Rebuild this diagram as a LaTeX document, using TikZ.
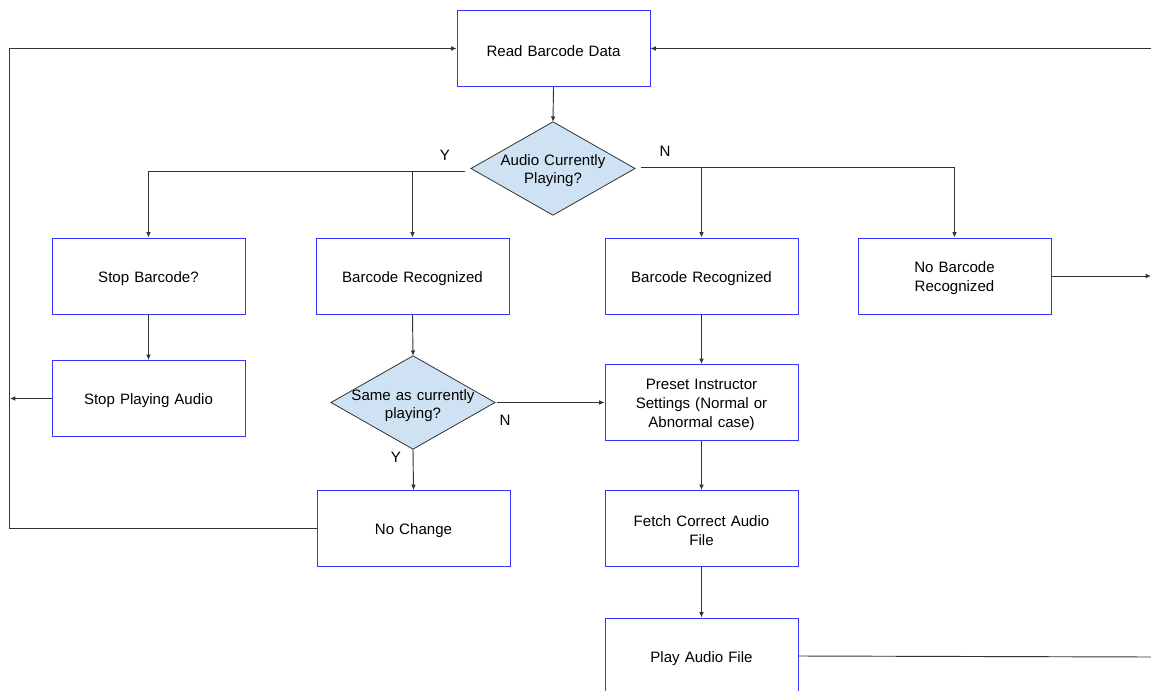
\documentclass[tikz,border=0pt]{standalone}
\usepackage{fontspec}
\setmainfont{Liberation Sans}
\usetikzlibrary{shapes.geometric,arrows.meta}
\definecolor{boxblue}{HTML}{3535FF}
\definecolor{dfill}{HTML}{CFE2F3}
\definecolor{lgray}{HTML}{333333}
\begin{document}
\begin{tikzpicture}[x=0.75pt,y=-0.75pt,
  txt/.style={font=\fontsize{11.3}{14}\selectfont},
  box/.style={txt, draw=boxblue, line width=0.7pt, minimum width=144.75pt, minimum height=57pt, align=center, inner sep=0pt, text width=130pt, execute at begin node={\rule{0pt}{11.5pt}}},
  dec/.style={diamond, draw=lgray, fill=dfill, line width=0.6pt, minimum width=123pt, minimum height=70pt, inner sep=0pt, outer sep=0pt},
  dtxt/.style={txt, align=center, inner sep=0pt, text width=130pt, execute at begin node={\rule{0pt}{11.5pt}}},
  conn/.style={draw=lgray, line width=0.7pt},
  arr/.style={conn, -{Latex[length=4pt,width=3.5pt]}},
  lbl/.style={txt, inner sep=0pt}]
\useasboundingbox (0,0) rectangle (1151,691);
\clip (0,0) rectangle (1151,691);
\fill[white] (0,0) rectangle (1151,691);

% nodes
\node[box] (read) at (553.5,48.5) {Read Barcode Data};
\node[dec] (d1) at (553,168.5) {};
\node[dtxt] (d1t) at (553,168.5) {Audio Currently\\Playing?};
\node[box] (stopbc) at (148.5,276) {Stop Barcode?};
\node[box] (brl) at (412.5,276) {Barcode Recognized};
\node[box] (brr) at (701.5,276) {Barcode Recognized};
\node[box] (nobr) at (954.5,276) {No Barcode\\Recognized};
\node[box] (stopplay) at (148.5,398.5) {Stop Playing Audio};
\node[dec] (d2) at (413,402.5) {};
\node[dtxt] (d2t) at (413,403.5) {Same as currently\\playing?};
\node[box] (preset) at (701.5,402.5) {Preset Instructor\\Settings (Normal or\\Abnormal case)};
\node[box] (nochange) at (413.5,528.5) {No Change};
\node[box] (fetch) at (701.5,528.5) {Fetch Correct Audio\\File};
\node[box] (play) at (701.5,656) {Play Audio File};

% coordinates
\coordinate (yl) at (465,171);
\coordinate (ys) at (148.5,171);
\coordinate (yb) at (412.5,171);
\coordinate (nl) at (641,167);
\coordinate (nb) at (701.5,167);
\coordinate (ne) at (954.5,167);
\coordinate (lb) at (9,528.5);
\coordinate (sl) at (10,398.5);
\coordinate (r1) at (1151,48.5);
\coordinate (r2) at (1151,276);
\coordinate (r3) at (1151,657);

% connectors
\draw[arr] (read.south) -- (d1.north);
\draw[conn] (yl) -- (ys);
\draw[arr] (ys) -- (stopbc.north);
\draw[arr] (yb) -- (brl.north);
\draw[conn] (nl) -- (ne);
\draw[arr] (nb) -- (brr.north);
\draw[arr] (ne) -- (nobr.north);
\draw[arr] (stopbc.south) -- (stopplay.north);
\draw[arr] (stopplay.west) -- (sl);
\draw[arr] (nochange.west) -- (lb) |- (read.west);
\draw[arr] (r1) -- (read.east);
\draw[arr] (brl.south) -- (d2.north);
\draw[arr] (d2.east) ++(2,0) -- (preset.west);
\draw[arr] (d2.south) -- (nochange.north);
\draw[arr] (brr.south) -- (preset.north);
\draw[arr] (preset.south) -- (fetch.north);
\draw[arr] (fetch.south) -- (play.north);
\draw[arr] (nobr.east) -- (r2);
\draw[conn] (play.east) -- (r3);

% labels
\node[lbl] (ly1) at (445,155) {Y};
\node[lbl] (ln1) at (665,151) {N};
\node[lbl] (ln2) at (505,420) {N};
\node[lbl] (ly2) at (396,457) {Y};
\end{tikzpicture}
\end{document}
